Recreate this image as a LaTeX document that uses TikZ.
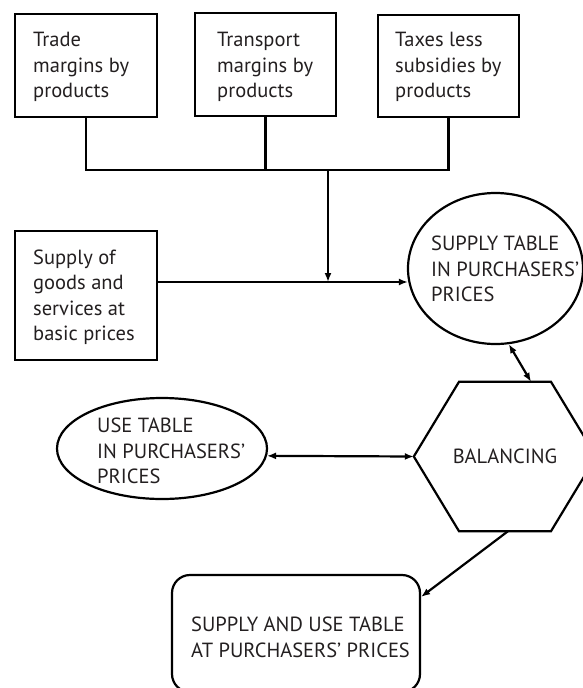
\documentclass[tikz,border=0pt]{standalone}
\usepackage{fontspec}
\setmainfont{PT Sans}
\usetikzlibrary{arrows.meta,shapes.geometric,calc}
\definecolor{ink}{HTML}{231F20}
\newcommand\diafont{\fontsize{20.5}{25.5}\selectfont}
\begin{document}
\begin{tikzpicture}[x=1pt,y=-1pt,
  boxshape/.style={draw=black, line width=2.4pt, inner sep=0pt},
  ellshape/.style={draw=black, ellipse, line width=2.2pt, inner sep=0pt},
  txt/.style={inner sep=0pt, align=left, anchor=north west, font=\diafont, text=ink},
  conn/.style={draw=black, line width=2.2pt},
  arr/.style={conn, -{Latex[length=9pt,width=7pt]}},
  darr/.style={conn, {Latex[length=9pt,width=7pt]}-{Latex[length=9pt,width=7pt]}}
]
\useasboundingbox (0,0) rectangle (583,688);
% top boxes
\node[boxshape, minimum width=142pt, minimum height=103pt] (b1) at (86,65.5) {};
\node[boxshape, minimum width=141pt, minimum height=103pt] (b2) at (265.5,64.5) {};
\node[boxshape, minimum width=141pt, minimum height=102pt] (b3) at (448.5,66) {};
\node[txt] (t1) at (33,32) {Trade\\margins by\\products};
\node[txt] (t2) at (217,32) {Transport\\margins by\\products};
\node[txt] (t3) at (395,32) {Taxes less\\subsidies by\\products};
% supply box
\node[boxshape, minimum width=142pt, minimum height=129pt] (b4) at (86,295.5) {};
\node[txt] (t4) at (33,249.5) {Supply of\\goods and\\services at\\basic prices};
% supply ellipse
\node[ellshape, minimum width=175pt, minimum height=151pt] (sup) at (495.5,268.5) {};
\node[txt] (supt) at (431,236) {SUPPLY TABLE\\IN PURCHASERS'\\PRICES};
% use ellipse
\node[ellshape, minimum width=210pt, minimum height=101pt] (use) at (162,448.5) {};
\node[txt] (uset) at (97,418) {USE TABLE\\IN PURCHASERS'\\PRICES};
% hexagon
\node[inner sep=0pt, minimum width=182pt, minimum height=149pt, font=\diafont, text=ink] (hex) at (505,456.5) {BALANCING};
\draw[line width=2.2pt, line join=miter]
  ([xshift=-46pt]hex.north) -- ([xshift=46pt]hex.north) -- (hex.east)
  -- ([xshift=46pt]hex.south) -- ([xshift=-46pt]hex.south) -- (hex.west) -- cycle;
% final box
\node[boxshape, line width=2.2pt, rounded corners=18pt, minimum width=248pt, minimum height=117pt] (fin) at (296,633.5) {};
\node[txt] (fint) at (191,617) {SUPPLY AND USE TABLE\\AT PURCHASERS' PRICES};
% connectors
\coordinate (bus) at (328,170);
\coordinate (join) at (328,282);
\draw[conn] (b1.south) -- (b1.south |- bus) -- (b3.south |- bus) -- (b3.south);
\draw[conn] (b2.south) -- (b2.south |- bus);
\draw[arr] (bus) -- (join);
\draw[arr] (b4.east |- join) -- ([xshift=1pt]join -| sup.west);
\draw[darr] (sup.-80) -- ([xshift=26pt]hex.north);
\draw[darr] (use.-4.4) -- (hex.west);
\draw[arr] ([xshift=3pt]hex.south) -- ([yshift=-23pt]fin.north east);
\end{tikzpicture}
\end{document}
